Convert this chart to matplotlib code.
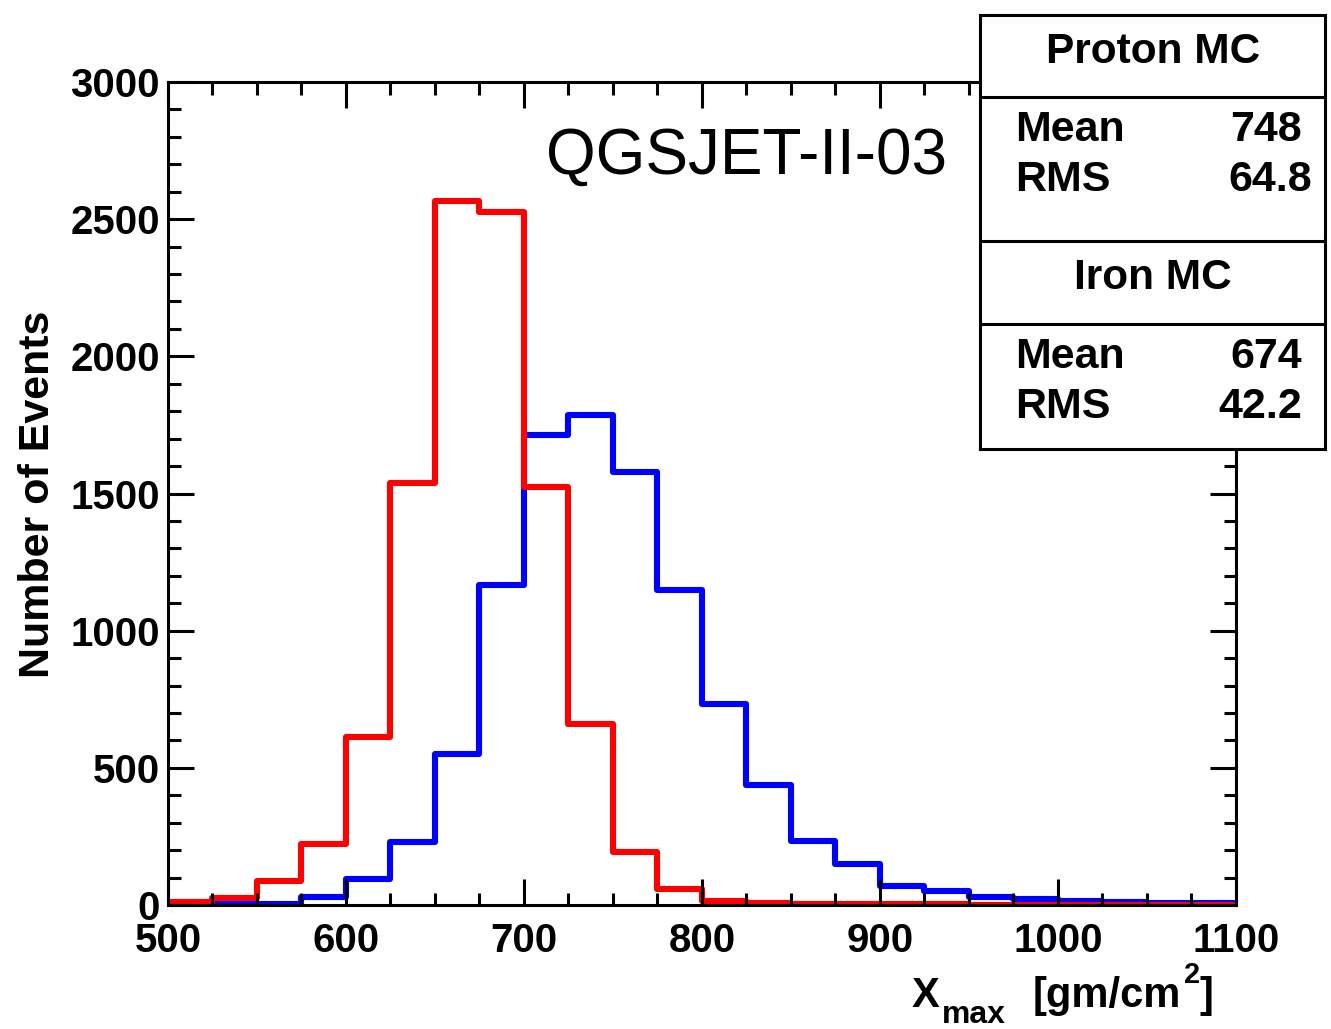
import numpy as np
import matplotlib
matplotlib.use("Agg")
import matplotlib.pyplot as plt
from matplotlib.ticker import MultipleLocator

plt.rcParams['font.family'] = ['Liberation Sans', 'DejaVu Sans']

# Xmax histograms, 25 g/cm2 bins from 500 to 1100
edges = np.arange(500, 1101, 25)
proton = [2, 3, 5, 28, 94, 230, 551, 1168, 1712, 1785, 1580, 1150,
          734, 437, 235, 148, 70, 52, 31, 22, 13, 11, 9, 6]
iron = [10, 25, 88, 223, 613, 1540, 2565, 2525, 1525, 660, 194, 58,
        16, 6, 4, 3, 2, 2, 1, 1, 1, 1, 1, 1]

stats = [("Proton MC", "748", "64.8"), ("Iron MC", "674", "42.2")]

W, H = 1331, 1029
fig = plt.figure(figsize=(W / 100, H / 100), dpi=100)
ax = fig.add_axes([0.1262, 0.1205, 0.8024, 0.7998])

ax.stairs(proton, edges, color='#0000ff', linewidth=4.4, baseline=None, joinstyle='round')
ax.stairs(iron, edges, color='#ff0000', linewidth=4.4, baseline=None, joinstyle='round')

ax.set_xlim(500, 1100)
ax.set_ylim(0, 3000)
ax.xaxis.set_major_locator(MultipleLocator(100))
ax.xaxis.set_minor_locator(MultipleLocator(25))
ax.yaxis.set_major_locator(MultipleLocator(500))
ax.yaxis.set_minor_locator(MultipleLocator(100))
ax.tick_params(which='both', direction='in', top=True, right=True, width=2.2)
ax.tick_params(which='major', length=19)
ax.tick_params(which='minor', length=9)
ax.tick_params(axis='x', which='major', pad=12)
ax.tick_params(axis='y', which='major', pad=6)
for lab in ax.get_xticklabels() + ax.get_yticklabels():
    lab.set_fontsize(29)
    lab.set_fontweight('bold')
for sp in ax.spines.values():
    sp.set_linewidth(2.2)

ax.text(0.730, 0.909, "QGSJET-II-03", transform=ax.transAxes, fontsize=46,
        ha='right', va='center')

fig.text(0.0286, 0.52, "Number of Events", rotation=90, fontsize=31,
         fontweight='bold', ha='center', va='center')

# x title built from pieces: X, subscript max, [gm/cm, superscript 2, ]
def ftext(px, py, s, size, **kw):
    fig.text(px / W, 1 - py / H, s, fontsize=size, fontweight='bold',
             ha='left', va='baseline', **kw)

ftext(912, 1007, "X", 30)
ftext(942, 1023, "max", 23)
ftext(1033, 1007, "[gm/cm", 30)
ftext(1184, 983, "2", 21)
ftext(1200, 1007, "]", 30)

# stats box on top of the frame
box = fig.add_axes([0.7363, 0.5637, 0.2592, 0.4217])
box.set_xlim(0, 1)
box.set_ylim(0, 1)
box.set_xticks([])
box.set_yticks([])
for sp in box.spines.values():
    sp.set_linewidth(2.2)
for y in [0.811, 0.479, 0.288]:
    box.axhline(y, color='black', linewidth=2.2)

rows = [(0.914, 0.735, 0.619, 0.933, 0.962), (0.394, 0.212, 0.096, 0.933, 0.933)]
for (title, mean, rms), (yt, ym, yr, xm, xr) in zip(stats, rows):
    box.text(0.501, yt, title, fontsize=30.5, fontweight='bold', ha='center', va='center')
    box.text(0.101, ym, "Mean", fontsize=31, fontweight='bold', ha='left', va='center')
    box.text(xm, ym, mean, fontsize=31, fontweight='bold', ha='right', va='center')
    box.text(0.101, yr, "RMS", fontsize=31, fontweight='bold', ha='left', va='center')
    box.text(xr, yr, rms, fontsize=31, fontweight='bold', ha='right', va='center')

fig.savefig("out.png", dpi=100)
